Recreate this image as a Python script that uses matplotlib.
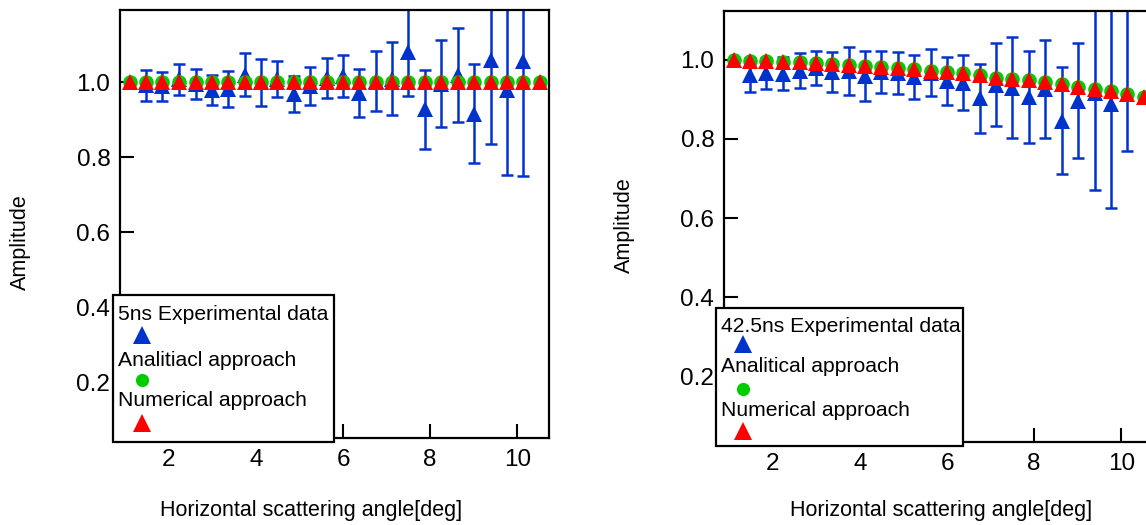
import matplotlib
matplotlib.use("Agg")
import matplotlib.pyplot as plt
from matplotlib.patches import Rectangle
from matplotlib.lines import Line2D

plt.rcParams['font.family'] = ['Liberation Sans', 'DejaVu Sans']

# scattering angles [deg]
angles = [1.10, 1.48, 1.85, 2.23, 2.61, 2.98, 3.36, 3.74, 4.11, 4.49, 4.87, 5.24, 5.62,
          6.00, 6.37, 6.75, 7.13, 7.50, 7.88, 8.26, 8.63, 9.01, 9.39, 9.76, 10.14, 10.52]
exp_angles = angles[1:25]

# 5ns panel
exp_5 = [0.992, 0.990, 1.008, 0.996, 0.980, 0.982, 1.021, 1.000, 1.009, 0.968, 0.991, 1.012,
         1.018, 0.971, 1.004, 1.010, 1.080, 0.928, 0.997, 1.020, 0.916, 1.060, 0.980, 1.058]
err_5 = [0.041, 0.039, 0.041, 0.041, 0.041, 0.048, 0.057, 0.062, 0.047, 0.048, 0.050, 0.054,
         0.056, 0.064, 0.080, 0.097, 0.116, 0.106, 0.115, 0.125, 0.132, 0.225, 0.228, 0.308]
analytic_5 = [1.0] * 26
numeric_5 = [1.0] * 26

# 42.5ns panel
exp_42 = [0.963, 0.966, 0.965, 0.973, 0.980, 0.969, 0.972, 0.959, 0.970, 0.967, 0.957, 0.968,
          0.947, 0.943, 0.903, 0.937, 0.930, 0.907, 0.926, 0.846, 0.897, 0.916, 0.889, 1.160]
err_42 = [0.043, 0.040, 0.042, 0.044, 0.044, 0.050, 0.060, 0.064, 0.053, 0.052, 0.055, 0.059,
          0.060, 0.069, 0.088, 0.105, 0.128, 0.116, 0.124, 0.135, 0.145, 0.245, 0.263, 0.390]
analytic_42 = [1.000, 0.998, 0.997, 0.996, 0.995, 0.992, 0.991, 0.988, 0.986, 0.983, 0.980, 0.976,
               0.973, 0.969, 0.966, 0.961, 0.955, 0.952, 0.949, 0.944, 0.938, 0.932, 0.927,
               0.922, 0.915, 0.906]
numeric_42 = [1.000, 0.998, 0.997, 0.996, 0.995, 0.992, 0.991, 0.988, 0.986, 0.983, 0.980, 0.976,
              0.973, 0.969, 0.966, 0.961, 0.955, 0.952, 0.949, 0.944, 0.938, 0.932, 0.927,
              0.922, 0.915, 0.906]

BLUE = '#0033cc'
GREEN = '#00cc00'
RED = '#ff0000'

W, H = 1146, 525
fig = plt.figure(figsize=(W / 100, H / 100), dpi=100)


def fx(px):
    return px / W


def fy(py):
    return 1 - py / H


def panel(rect, exp, err, ana, num, ylim, ylab_pos, xlab_pos):
    ax = fig.add_axes(rect)
    ax.errorbar(exp_angles, exp, yerr=err, fmt='none', ecolor=BLUE,
                capsize=4.5, elinewidth=1.8, capthick=1.8, zorder=2)
    ax.plot(exp_angles, exp, '^', color=BLUE, ms=11.5, mew=0, zorder=2)
    ax.plot(angles, ana, 'o', color=GREEN, ms=10.5, mew=0, zorder=3)
    ax.plot(angles, num, '^', color=RED, ms=11.5, mew=0, zorder=4)
    ax.set_xlim(0.875, 10.73)
    ax.set_ylim(*ylim)
    ax.set_xticks([2, 4, 6, 8, 10])
    ax.set_yticks([0.2, 0.4, 0.6, 0.8, 1.0])
    ax.set_yticklabels(['0.2', '0.4', '0.6', '0.8', '1.0'])
    ax.tick_params(direction='in', length=10, width=1.5, labelsize=17.5, pad=7)
    ax.tick_params(axis='x', pad=8)
    for s in ax.spines.values():
        s.set_linewidth(1.6)
    ax.set_xlabel('Horizontal scattering angle[deg]', fontsize=15.5, va='center')
    ax.xaxis.set_label_coords(*xlab_pos)
    ax.set_ylabel('Amplitude', fontsize=15.5, va='center')
    ax.yaxis.set_label_coords(*ylab_pos)
    return ax


ax1 = panel([fx(120), fy(438), 429 / W, 428 / H], exp_5, err_5, analytic_5, numeric_5,
            (0.052, 1.193), (-0.231, 0.457), (0.445, -0.17))
ax2 = panel([fx(724), fy(442), 429 / W, 431 / H], exp_42, err_42, analytic_42, numeric_42,
            (0.033, 1.124), (-0.231, 0.503), (0.506, -0.159))


def legend_box(box, labels, text_y, marker_y, text_x, marker_x):
    x0, y0, x1, y1 = box
    fig.add_artist(Rectangle((fx(x0), fy(y1)), (x1 - x0) / W, (y1 - y0) / H,
                             transform=fig.transFigure, fc='white', ec='black',
                             lw=1.6, zorder=5))
    styles = [('^', BLUE, 12.5), ('o', GREEN, 9.5), ('^', RED, 12.5)]
    for lab, ty, my, (m, c, s) in zip(labels, text_y, marker_y, styles):
        fig.text(fx(text_x), fy(ty), lab, fontsize=15.2, ha='left', va='center', zorder=6)
        fig.add_artist(Line2D([fx(marker_x)], [fy(my)], marker=m, color=c, ms=s, mew=0,
                              ls='none', transform=fig.transFigure, zorder=6))


legend_box((113, 295, 334, 442),
           ['5ns Experimental data', 'Analitiacl approach', 'Numerical approach'],
           [314, 360, 401], [335, 380, 423], 118, 141.5)
legend_box((716, 308, 963, 446),
           ['42.5ns Experimental data', 'Analitical approach', 'Numerical approach'],
           [326, 367, 411], [344, 389, 431], 721, 743)

fig.savefig('out.png', dpi=100)
